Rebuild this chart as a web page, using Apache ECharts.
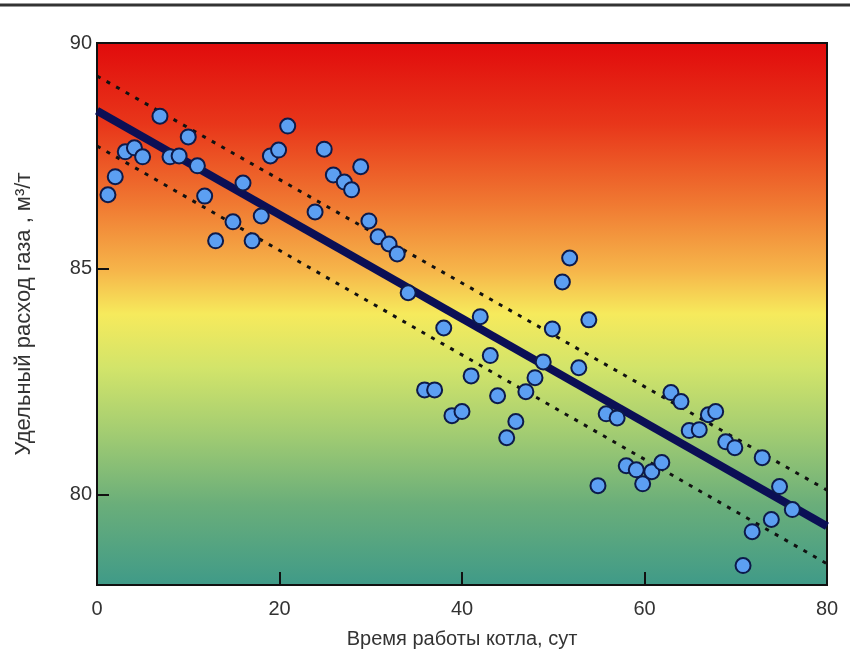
<!DOCTYPE html>
<html>
<head>
<meta charset="utf-8">
<script src="https://cdn.jsdelivr.net/npm/echarts@6/dist/echarts.min.js"></script>
<style>html,body{margin:0;padding:0;background:#fff}#c{width:850px;height:658px}</style>
</head>
<body>
<div id="c"></div>
<script>
// Scatter data: days of boiler operation vs specific gas consumption
const days = [1.2,2.0,3.1,4.1,5.0,6.9,8.0,9.0,10.0,11.0,11.8,13.0,14.9,16.0,17.0,18.0,19.0,19.9,20.9,23.9,24.9,25.9,27.1,27.9,28.9,29.8,30.8,32.0,32.9,34.1,35.9,37.0,38.0,38.9,40.0,41.0,42.0,43.1,43.9,44.9,45.9,47.0,48.0,48.9,49.9,51.0,51.8,52.8,53.9,54.9,55.8,57.0,58.0,59.1,59.8,60.8,61.9,62.9,64.0,64.9,66.0,67.0,67.8,68.9,69.9,70.8,71.8,72.9,73.9,74.8,76.2];
const consumption = [86.64,87.04,87.59,87.68,87.48,88.38,87.48,87.50,87.92,87.28,86.61,85.62,86.04,86.90,85.62,86.17,87.50,87.63,88.16,86.26,87.65,87.08,86.92,86.75,87.26,86.06,85.71,85.55,85.33,84.47,82.32,82.32,83.69,81.75,81.84,82.63,83.94,83.08,82.19,81.26,81.62,82.28,82.59,82.94,83.67,84.71,85.24,82.81,83.87,80.20,81.79,81.70,80.64,80.55,80.24,80.51,80.71,82.26,82.06,81.42,81.44,81.77,81.84,81.17,81.04,78.43,79.18,80.82,79.45,80.18,79.67];
// Regression line and confidence band end points
const trendX = [0, 80];
const trendY = [88.5, 79.3];
const upperY = [89.27, 80.1];
const lowerY = [87.72, 78.47];
// Axis ticks
const xTicks = [0, 20, 40, 60, 80];
const yTicks = [80, 85, 90];

const pts = days.map((d, i) => [d, consumption[i]]);
const pair = ys => trendX.map((x, i) => [x, ys[i]]);

const chart = echarts.init(document.getElementById('c'));
const font = 'Liberation Sans, Arial, sans-serif';
chart.setOption({
  animation: false,
  backgroundColor: '#ffffff',
  graphic: [{
    type: 'line', shape: {x1: 0, y1: 5, x2: 850, y2: 5},
    style: {stroke: '#333', lineWidth: 3}
  }],
  grid: {
    left: 97, right: 23, top: 43, bottom: 73,
    show: true, borderColor: '#111', borderWidth: 2,
    backgroundColor: {
      type: 'linear', x: 0, y: 0, x2: 0, y2: 1,
      colorStops: [
        {offset: 0, color: '#e10b0c'},
        {offset: 0.15, color: '#e8361a'},
        {offset: 0.30, color: '#f07a32'},
        {offset: 0.42, color: '#f6b54a'},
        {offset: 0.50, color: '#f6ea5c'},
        {offset: 0.60, color: '#d2e46a'},
        {offset: 0.72, color: '#a2cc72'},
        {offset: 0.85, color: '#6aae7a'},
        {offset: 1, color: '#3f9a88'}
      ]
    }
  },
  xAxis: {
    type: 'value', min: 0, max: 80, interval: 20,
    name: 'Время работы котла, сут', nameLocation: 'middle', nameGap: 44,
    nameTextStyle: {fontFamily: font, fontSize: 20, color: '#333'},
    axisLine: {show: true, lineStyle: {color: '#111', width: 2}},
    axisTick: {show: true, inside: true, length: 13, lineStyle: {color: '#111', width: 2}, customValues: xTicks.slice(1, -1)},
    axisLabel: {fontFamily: font, fontSize: 20, color: '#333', margin: 14, customValues: xTicks},
    splitLine: {show: false}
  },
  yAxis: {
    type: 'value', min: 78, max: 90,
    name: 'Удельный расход газа , м³/т', nameLocation: 'middle', nameGap: 62,
    nameTextStyle: {fontFamily: font, fontSize: 22, color: '#333'},
    axisLine: {show: true, lineStyle: {color: '#111', width: 2}},
    axisTick: {show: true, inside: true, length: 12, lineStyle: {color: '#111', width: 2}, customValues: yTicks.slice(0, -1)},
    axisLabel: {fontFamily: font, fontSize: 20, color: '#333', margin: 5, customValues: yTicks},
    splitLine: {show: false}
  },
  series: [
    {type: 'line', data: pair(upperY), symbol: 'none', z: 2,
     lineStyle: {color: '#111', width: 3, type: [4, 7]}},
    {type: 'line', data: pair(lowerY), symbol: 'none', z: 2,
     lineStyle: {color: '#111', width: 3, type: [4, 7]}},
    {type: 'line', data: pair(trendY), symbol: 'none', z: 3,
     lineStyle: {color: '#0b0f55', width: 8}},
    {type: 'scatter', data: pts, symbol: 'circle', symbolSize: 15, z: 4,
     itemStyle: {color: '#5c9ff2', borderColor: '#0d1a4a', borderWidth: 2, opacity: 1}}
  ]
});
</script>
</body>
</html>
